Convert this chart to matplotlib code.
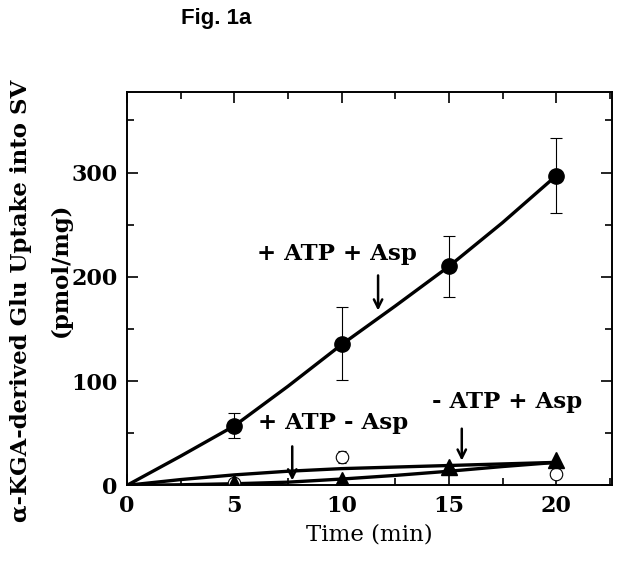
import numpy as np
import matplotlib
matplotlib.use('Agg')
import matplotlib.pyplot as plt
from matplotlib.ticker import MultipleLocator

# data
time = [5, 10, 15, 20]
atp_asp = [57, 136, 210, 297]
atp_asp_err = [12, 35, 29, 36]

no_atp_asp = [2, 5, 18, 24]          # filled triangles, - ATP + Asp
atp_no_asp_t = [5, 10, 20]
atp_no_asp = [2, 27, 11]             # open circles, + ATP - Asp
atp_no_asp_err = [1, 6, 3]

# fitted curves as drawn in the figure
fit_t = [0, 2.5, 5, 7.5, 10, 12.5, 15, 17.5, 20]
fit_atp_asp = [0, 28, 57, 95, 135, 172, 210, 252, 297]
fit_atp_no_asp = [0, 5.5, 10, 13.5, 16, 17.5, 19, 20.5, 22]
fit_no_atp_asp = [0, 0.5, 1.5, 3, 6, 9.5, 13.5, 18, 22]

plt.rcParams['font.family'] = 'DejaVu Serif'
plt.rcParams['font.weight'] = 'bold'

fig = plt.figure(figsize=(6.21, 5.63), dpi=100)
ax = fig.add_axes([0.2045, 0.138, 0.781, 0.698])

# fits
ax.plot(fit_t, fit_atp_asp, color='black', lw=2.4)
ax.plot(fit_t, fit_atp_no_asp, color='black', lw=2.4)
ax.plot(fit_t, fit_no_atp_asp, color='black', lw=2.4)

# points
ax.errorbar(time, atp_asp, yerr=atp_asp_err, fmt='o', color='black',
            ms=11, elinewidth=0.8, capsize=4, capthick=0.8, zorder=5)
ax.errorbar(atp_no_asp_t, atp_no_asp, yerr=atp_no_asp_err, fmt='o',
            mfc='white', mec='black', ecolor='black', ms=9, mew=0.8,
            elinewidth=0.8, capsize=3, capthick=0.8, zorder=4)
ax.plot(time, no_atp_asp, '^', color='black', ms=11, zorder=6)

# labels with arrows
arrow = dict(arrowstyle='->,head_length=0.6,head_width=0.3', lw=1.8, color='black')
ax.text(9.8, 222, '+ ATP + Asp', ha='center', va='center', fontsize=16.5)
ax.annotate('', xy=(11.7, 165), xytext=(11.7, 204), arrowprops=arrow)
ax.text(9.6, 60, '+ ATP - Asp', ha='center', va='center', fontsize=16.5)
ax.annotate('', xy=(7.7, 2), xytext=(7.7, 40), arrowprops=arrow)
ax.text(17.7, 80, '- ATP + Asp', ha='center', va='center', fontsize=16.5)
ax.annotate('', xy=(15.6, 21), xytext=(15.6, 57), arrowprops=arrow)

ax.set_xlim(0, 22.6)
ax.set_ylim(0, 377)
ax.set_xticks([0, 5, 10, 15, 20])
ax.set_yticks([0, 100, 200, 300])
ax.xaxis.set_minor_locator(MultipleLocator(2.5))
ax.yaxis.set_minor_locator(MultipleLocator(50))
ax.tick_params(which='both', direction='in', top=True, right=True, width=1.2)
ax.tick_params(which='major', length=8, labelsize=16, pad=7)
ax.tick_params(which='minor', length=5)
for s in ax.spines.values():
    s.set_linewidth(1.4)

ax.set_xlabel('Time (min)', fontsize=16.5, labelpad=5)

fig.text(0.034, 0.465, 'α-KGA-derived Glu Uptake into SV', rotation=90,
         ha='center', va='center', fontsize=16.5)
fig.text(0.098, 0.52, '(pmol/mg)', rotation=90, ha='center', va='center', fontsize=16.5)

fig.text(0.348, 0.968, 'Fig. 1a', ha='center', va='center', fontsize=16,
         fontweight='bold', family='Liberation Sans')

plt.savefig('out.png', dpi=100)
